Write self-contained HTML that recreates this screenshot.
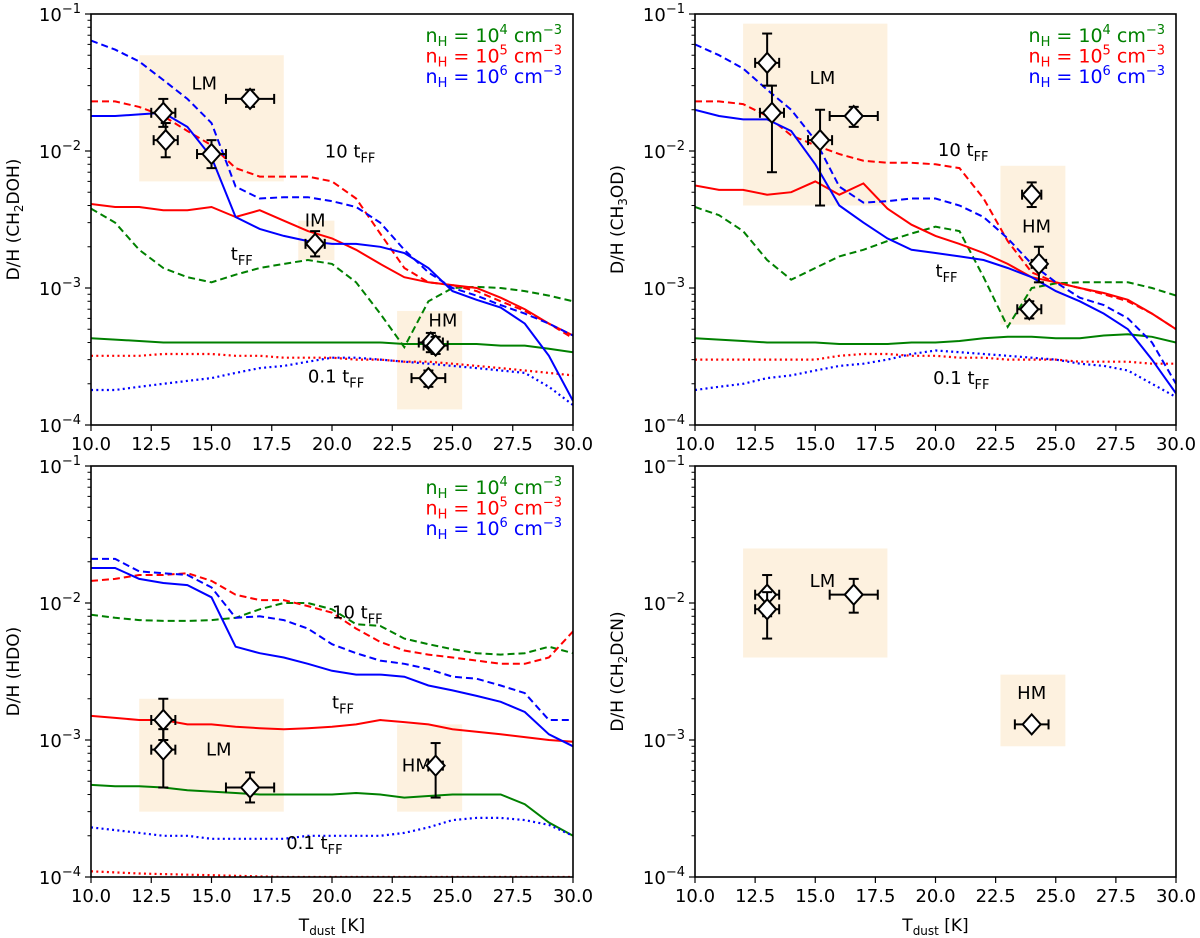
<!DOCTYPE html>
<html><head><meta charset="utf-8">
<style>
html,body{margin:0;padding:0;background:#fff;}
svg{display:block;font-family:"DejaVu Sans","Liberation Sans",sans-serif;}
</style></head>
<body>
<svg id="fig" width="1200" height="938" viewBox="0 0 1200 938"></svg>
<script>
// ---- data ----
const xs = [10,11,12,13,14,15,16,17,18,19,20,21,22,23,24,25,26,27,28,29,30];
// Panel A: CH2DOH
const a_blue_dash = [0.064,0.055,0.045,0.033,0.024,0.016,0.0055,0.0045,0.0046,0.0046,0.0043,0.0039,0.0030,0.0019,0.0013,0.0010,0.00088,0.00075,0.00065,0.00055,0.00045];
const a_blue_solid = [0.018,0.018,0.0185,0.019,0.015,0.009,0.0033,0.0027,0.0024,0.0022,0.0021,0.0021,0.002,0.0018,0.0014,0.00095,0.00082,0.00072,0.00055,0.00032,0.00015];
const a_red_dash = [0.023,0.023,0.021,0.018,0.014,0.011,0.0075,0.0065,0.0065,0.0065,0.006,0.0045,0.0025,0.0014,0.0011,0.00105,0.00095,0.0008,0.00068,0.00055,0.00043];
const a_red_solid = [0.0041,0.0039,0.0039,0.0037,0.0037,0.0039,0.0033,0.0037,0.0031,0.0026,0.0023,0.0019,0.0015,0.0012,0.0011,0.00105,0.001,0.00085,0.0007,0.00055,0.00045];
const a_green_dash = [0.0038,0.003,0.0019,0.0014,0.0012,0.0011,0.00125,0.0014,0.0015,0.0016,0.0015,0.0011,0.00065,0.00037,0.0008,0.001,0.00102,0.001,0.00095,0.00088,0.0008];
const a_green_solid = [0.00043,0.00042,0.00041,0.0004,0.0004,0.0004,0.0004,0.0004,0.0004,0.0004,0.0004,0.0004,0.0004,0.00039,0.00039,0.00039,0.00039,0.00038,0.00038,0.00036,0.00034];
const a_red_dot = [0.00032,0.00032,0.00032,0.00033,0.00033,0.00033,0.00032,0.00032,0.00031,0.00031,0.00031,0.0003,0.0003,0.00029,0.00029,0.00028,0.00027,0.00026,0.00025,0.00024,0.00023];
const a_blue_dot = [0.00018,0.00018,0.00019,0.0002,0.00021,0.00022,0.00024,0.00026,0.00027,0.00029,0.00031,0.00031,0.0003,0.00029,0.00028,0.00027,0.00026,0.00025,0.00024,0.00019,0.00014];
// Panel B: CH3OD
const b_blue_dash = [0.06,0.05,0.04,0.028,0.02,0.012,0.0055,0.0042,0.0043,0.0045,0.0045,0.004,0.0033,0.0023,0.0015,0.0011,0.00085,0.00075,0.0006,0.0004,0.0002];
const b_blue_solid = [0.02,0.018,0.017,0.017,0.014,0.008,0.004,0.003,0.0023,0.0019,0.0018,0.0017,0.0016,0.0014,0.0012,0.00095,0.0008,0.00065,0.0005,0.0003,0.00017];
const b_red_dash = [0.023,0.023,0.022,0.018,0.013,0.011,0.0095,0.0085,0.0082,0.0082,0.008,0.0075,0.0045,0.0022,0.0013,0.0011,0.001,0.0009,0.0008,0.00065,0.0005];
const b_red_solid = [0.0056,0.0052,0.0052,0.0048,0.005,0.006,0.0048,0.0058,0.0038,0.0029,0.0024,0.0021,0.0018,0.0015,0.0012,0.0011,0.001,0.00092,0.00082,0.00065,0.0005];
const b_green_dash = [0.0039,0.0034,0.0026,0.0016,0.00115,0.0014,0.0017,0.0019,0.0022,0.0025,0.0028,0.0026,0.0012,0.00052,0.001,0.00108,0.0011,0.0011,0.0011,0.001,0.00088];
const b_green_solid = [0.00043,0.00042,0.00041,0.0004,0.0004,0.0004,0.00039,0.00039,0.00039,0.0004,0.0004,0.00041,0.00043,0.00044,0.00044,0.00043,0.00043,0.00045,0.00046,0.00044,0.0004];
const b_red_dot = [0.0003,0.0003,0.0003,0.0003,0.0003,0.0003,0.00032,0.00033,0.00033,0.00032,0.00032,0.00031,0.00031,0.0003,0.0003,0.0003,0.00029,0.00029,0.00029,0.00028,0.00028];
const b_blue_dot = [0.00018,0.00019,0.0002,0.00022,0.00023,0.00025,0.00027,0.00028,0.0003,0.00033,0.00035,0.00034,0.00033,0.00032,0.00031,0.0003,0.00028,0.00027,0.00025,0.0002,0.00016];
// Panel C: HDO
const c_blue_solid = [0.018,0.018,0.015,0.014,0.0135,0.011,0.0048,0.0043,0.004,0.0036,0.0032,0.003,0.003,0.0029,0.0025,0.0023,0.0021,0.0019,0.0016,0.0011,0.0009];
const c_blue_dash = [0.021,0.021,0.017,0.0165,0.016,0.013,0.0078,0.008,0.0075,0.0065,0.005,0.0043,0.0038,0.0036,0.0033,0.0029,0.0028,0.0025,0.0022,0.0014,0.0014];
const c_red_dash = [0.0145,0.015,0.016,0.016,0.0165,0.0145,0.0115,0.0105,0.0105,0.0095,0.0085,0.0065,0.0052,0.0045,0.0042,0.004,0.0038,0.0036,0.0036,0.004,0.0062];
const c_red_solid = [0.0015,0.00145,0.0014,0.0014,0.0013,0.0013,0.00125,0.00122,0.0012,0.00122,0.00125,0.0013,0.0014,0.00135,0.0013,0.0012,0.00115,0.0011,0.00105,0.001,0.00097];
const c_green_dash = [0.0082,0.0078,0.0075,0.0074,0.0074,0.0075,0.0078,0.009,0.01,0.01,0.009,0.007,0.0068,0.0055,0.005,0.0046,0.0043,0.0042,0.0043,0.0048,0.0043];
const c_green_solid = [0.00047,0.00046,0.00046,0.00045,0.00043,0.00042,0.00041,0.0004,0.0004,0.0004,0.0004,0.00041,0.0004,0.00038,0.00039,0.0004,0.0004,0.0004,0.00034,0.00025,0.0002];
const c_blue_dot = [0.00023,0.00022,0.00021,0.0002,0.0002,0.00019,0.00019,0.00019,0.00019,0.0002,0.0002,0.0002,0.0002,0.00021,0.00023,0.00026,0.00027,0.00027,0.00026,0.00024,0.0002];
const c_red_dot = [0.00011,0.000108,0.000106,0.000105,0.000104,0.000103,0.000102,0.000101,0.0001,0.0001,0.0001,0.0001,0.0001,0.0001,0.0001,0.0001,0.0001,0.0001,0.0001,0.0001,0.0001];
// observations: [T, D/H, xerr, ylow, yhigh]
const a_obs = [[13.0,0.019,0.5,0.015,0.024],[13.1,0.012,0.5,0.009,0.016],[15.0,0.0095,0.6,0.0075,0.012],[16.6,0.024,1.0,0.021,0.028],[19.3,0.0021,0.4,0.0017,0.0026],[24.1,0.0004,0.5,0.00034,0.00047],[24.3,0.00038,0.5,0.00033,0.00044],[24.0,0.00022,0.7,0.00019,0.00025]];
const b_obs = [[13.0,0.044,0.5,0.03,0.072],[13.2,0.019,0.5,0.007,0.03],[15.2,0.012,0.5,0.004,0.02],[16.6,0.018,1.0,0.015,0.021],[24.0,0.0048,0.4,0.0039,0.0059],[24.3,0.0015,0.3,0.0011,0.002],[23.9,0.0007,0.5,0.0006,0.0008]];
const c_obs = [[13.0,0.0014,0.5,0.001,0.002],[13.0,0.00085,0.5,0.00045,0.0012],[16.6,0.00045,1.0,0.00035,0.00058],[24.3,0.00065,0.3,0.00038,0.00095]];
const d_obs = [[13.0,0.0115,0.5,0.008,0.016],[13.0,0.009,0.5,0.0055,0.012],[16.6,0.0115,1.0,0.0085,0.015],[24.0,0.0013,0.7,0.0012,0.0014]];
// region boxes: [label, x0, x1, y0, y1, labelT, labelV]
const a_boxes = [["LM",12,18,0.05,0.006,14.7,0.031],["IM",18.6,20.1,0.0031,0.0016,19.3,0.0031],["HM",22.7,25.4,0.00068,0.00013,24.6,0.00058]];
const b_boxes = [["LM",12,18,0.085,0.004,15.3,0.034],["HM",22.7,25.4,0.0078,0.00054,24.2,0.0028]];
const c_boxes = [["LM",12,18,0.002,0.0003,15.3,0.00085],["HM",22.7,25.4,0.0013,0.0003,23.5,0.00065]];
const d_boxes = [["LM",12,18,0.025,0.004,15.3,0.0145],["HM",22.7,25.4,0.003,0.0009,24.0,0.0022]];
const xTicks = [10,12.5,15,17.5,20,22.5,25,27.5,30];
const xTickLabels = ["10.0","12.5","15.0","17.5","20.0","22.5","25.0","27.5","30.0"];
const yDecades = [-4,-3,-2,-1];

// ---- drawing ----
const NS="http://www.w3.org/2000/svg";
const svg=document.getElementById('fig');
function mk(tag,attrs,parent){const e=document.createElementNS(NS,tag);for(const k in attrs)e.setAttribute(k,attrs[k]);(parent||svg).appendChild(e);return e;}
const GREEN="#008000",RED="#ff0000",BLUE="#0000ff";

function panel(name,L,R,T,B,ylabel){
  const g=mk('g',{});
  
  
  const p={g,L,R,T,B,
    x:t=>L+(t-10)/20*(R-L),
    y:v=>T+(-1-Math.log10(v))/3*(B-T)};
  const cp=mk('clipPath',{id:'clip-'+name},g);
  mk('rect',{x:L,y:T,width:R-L,height:B-T},cp);
  p.clip='url(#clip-'+name+')';
  p.ylabel=ylabel;
  return p;
}
function frame(p,showXLabels){
  const g=p.g;
  const f=mk('rect',{x:p.L,y:p.T,width:p.R-p.L,height:p.B-p.T,fill:'none',stroke:'#000','stroke-width':1.6},g);
  
  
  xTicks.forEach((t,i)=>{
    const X=p.x(t);
    mk('line',{x1:X,x2:X,y1:p.B,y2:p.B+6,stroke:'#000','stroke-width':1.2},g);
    const tx=mk('text',{x:X,y:p.B+25,'text-anchor':'middle','font-size':18},g);
    tx.textContent=xTickLabels[i];
    
    
  });
  yDecades.forEach(d=>{
    const Y=p.y(Math.pow(10,d));
    mk('line',{x1:p.L-6,x2:p.L,y1:Y,y2:Y,stroke:'#000','stroke-width':1.2},g);
    const tx=mk('text',{x:p.L-10,y:Y+7,'text-anchor':'end','font-size':18},g);
    tx.innerHTML='10<tspan dy="-8" font-size="13">−'+(-d)+'</tspan>';
    
    
    if(d<-1){for(let k=2;k<10;k++){const Ym=p.y(k*Math.pow(10,d));
      mk('line',{x1:p.L-3.5,x2:p.L,y1:Ym,y2:Ym,stroke:'#000','stroke-width':1},g);}}
  });
  const cy=(p.T+p.B)/2, cx=p.L-72;
  const yl=mk('text',{x:cx,y:cy,transform:`rotate(-90 ${cx} ${cy})`,'text-anchor':'middle','font-size':17},g);
  yl.innerHTML=p.ylabel;
  
  
  if(showXLabels){
    const xl=mk('text',{x:(p.L+p.R)/2,y:p.B+54,'text-anchor':'middle','font-size':17},g);
    xl.innerHTML='T<tspan dy="4" font-size="12">dust</tspan><tspan dy="-4"> [K]</tspan>';
    
    
  }
}
function boxes(p,list){
  list.forEach(b=>{
    const x0=p.x(b[1]),x1=p.x(b[2]),y0=p.y(b[3]),y1=p.y(b[4]);
    const r=mk('rect',{x:x0,y:y0,width:x1-x0,height:y1-y0,fill:'#fdf1df'},p.g);
    
    
  });
}
function boxLabels(p,list){
  list.forEach(b=>{
    const t=mk('text',{x:p.x(b[5]),y:p.y(b[6])+6,'text-anchor':'middle','font-size':18},p.g);
    t.textContent=b[0];
    
    
  });
}
function line(p,vals,color,style,nm){
  let d='';
  vals.forEach((v,i)=>{d+=(i?'L':'M')+p.x(xs[i]).toFixed(1)+','+p.y(v).toFixed(1);});
  const a={d,fill:'none',stroke:color,'stroke-width':2,'clip-path':p.clip};
  if(style==='dash')a['stroke-dasharray']='7,4';
  if(style==='dot'){a['stroke-dasharray']='2,3.3';a['stroke-width']=2.2;}
  const e=mk('path',a,p.g);
  
  
}
function obs(p,list){
  list.forEach(o=>{
    const X=p.x(o[0]),Y=p.y(o[1]),xl=p.x(o[0]-o[2]),xr=p.x(o[0]+o[2]),yl=p.y(o[3]),yh=p.y(o[4]);
    const g=mk('g',{stroke:'#000','stroke-width':2},p.g);
    
    
    mk('line',{x1:xl,x2:xr,y1:Y,y2:Y},g);
    mk('line',{x1:X,x2:X,y1:yl,y2:yh},g);
    mk('line',{x1:xl,x2:xl,y1:Y-5,y2:Y+5},g);
    mk('line',{x1:xr,x2:xr,y1:Y-5,y2:Y+5},g);
    mk('line',{x1:X-5,x2:X+5,y1:yl,y2:yl},g);
    mk('line',{x1:X-5,x2:X+5,y1:yh,y2:yh},g);
    mk('path',{d:`M${X},${Y-10}L${X+9},${Y}L${X},${Y+10}L${X-9},${Y}Z`,fill:'#fff'},g);
  });
}
function legend(p){
  const rows=[["4",GREEN],["5",RED],["6",BLUE]];
  rows.forEach((r,i)=>{
    const t=mk('text',{x:p.R-11,y:p.T+28+i*20.5,'text-anchor':'end','font-size':19,fill:r[1]},p.g);
    t.innerHTML='n<tspan dy="4" font-size="13">H</tspan><tspan dy="-4"> = 10</tspan><tspan dy="-8" font-size="13">'+r[0]+'</tspan><tspan dy="8"> cm</tspan><tspan dy="-8" font-size="13">−3</tspan>';
    
    
  });
}
function note(p,T,V,main,sub){
  const t=mk('text',{x:p.x(T),y:p.y(V),'font-size':18},p.g);
  t.innerHTML=main+'t<tspan dy="5" font-size="13">'+sub+'</tspan>';
  
  
}
function series(p,s){
  line(p,s.gs,GREEN,'solid','line-nh4-tff');
  if(s.gd)line(p,s.gd,GREEN,'dash','line-nh4-10tff');
  line(p,s.rd,RED,'dash','line-nh5-10tff');
  line(p,s.rs,RED,'solid','line-nh5-tff');
  line(p,s.rdot,RED,'dot','line-nh5-01tff');
  line(p,s.bdot,BLUE,'dot','line-nh6-01tff');
  line(p,s.bd,BLUE,'dash','line-nh6-10tff');
  line(p,s.bs,BLUE,'solid','line-nh6-tff');
}

// Panel A
const pA=panel('panel-ch2doh',91,573,14,425,'D/H (CH<tspan dy="4" font-size="12">2</tspan><tspan dy="-4">DOH)</tspan>');
boxes(pA,a_boxes);
series(pA,{gs:a_green_solid,gd:a_green_dash,rd:a_red_dash,rs:a_red_solid,rdot:a_red_dot,bdot:a_blue_dot,bd:a_blue_dash,bs:a_blue_solid});
boxLabels(pA,a_boxes);
obs(pA,a_obs);
note(pA,19.7,0.009,'10 ','FF');note(pA,15.8,0.0016,'','FF');note(pA,19.0,0.000205,'0.1 ','FF');
legend(pA);frame(pA,false);

// Panel B
const pB=panel('panel-ch3od',695,1176,14,425,'D/H (CH<tspan dy="4" font-size="12">3</tspan><tspan dy="-4">OD)</tspan>');
boxes(pB,b_boxes);
series(pB,{gs:b_green_solid,gd:b_green_dash,rd:b_red_dash,rs:b_red_solid,rdot:b_red_dot,bdot:b_blue_dot,bd:b_blue_dash,bs:b_blue_solid});
boxLabels(pB,b_boxes);
obs(pB,b_obs);
note(pB,20.1,0.0092,'10 ','FF');note(pB,20.0,0.0012,'','FF');note(pB,19.9,0.0002,'0.1 ','FF');
legend(pB);frame(pB,false);

// Panel C
const pC=panel('panel-hdo',91,573,466,877,'D/H (HDO)');
boxes(pC,c_boxes);
series(pC,{gs:c_green_solid,gd:c_green_dash,rd:c_red_dash,rs:c_red_solid,rdot:c_red_dot,bdot:c_blue_dot,bd:c_blue_dash,bs:c_blue_solid});
boxLabels(pC,c_boxes);
obs(pC,c_obs);
note(pC,20.0,0.0077,'10 ','FF');note(pC,20.0,0.0017,'','FF');note(pC,18.1,0.00016,'0.1 ','FF');
legend(pC);frame(pC,true);

// Panel D
const pD=panel('panel-ch2dcn',695,1176,466,877,'D/H (CH<tspan dy="4" font-size="12">2</tspan><tspan dy="-4">DCN)</tspan>');
boxes(pD,d_boxes);
boxLabels(pD,d_boxes);
obs(pD,d_obs);
frame(pD,true);
</script>
</body></html>
